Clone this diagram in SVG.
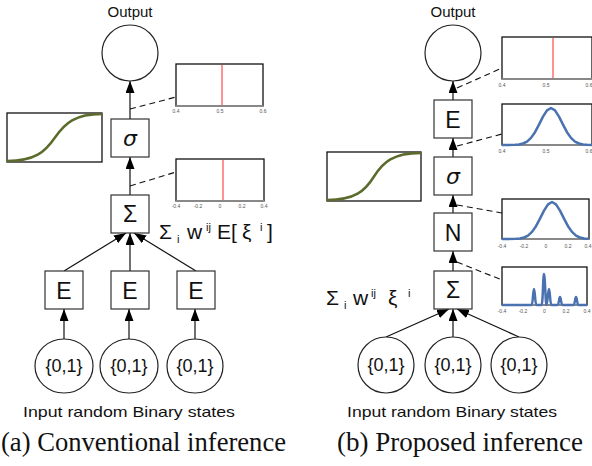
<svg xmlns="http://www.w3.org/2000/svg" width="592" height="466" viewBox="0 0 592 466">
<style>
.box{fill:#fff;stroke:#333;stroke-width:1.2}
.circ{fill:#fff;stroke:#222;stroke-width:1.2}
.lbl{font-family:"Liberation Sans","DejaVu Sans",sans-serif;font-size:23px;text-anchor:middle;fill:#111}
.sig{font-family:"DejaVu Sans",sans-serif;font-style:italic;font-size:22px;text-anchor:middle;fill:#111}
.bin{font-family:"Liberation Sans","DejaVu Sans",sans-serif;font-size:18px;text-anchor:middle;fill:#111}
.ttl{font-family:"Liberation Sans","DejaVu Sans",sans-serif;font-size:15px;fill:#111}
.cap{font-family:"Liberation Serif","Times New Roman",serif;font-size:27px;fill:#111}
.eq{font-family:"Liberation Sans","DejaVu Sans",sans-serif;font-size:21px;fill:#111}
.sub{font-family:"Liberation Sans","DejaVu Sans",sans-serif;font-size:11px;fill:#111}
.tick{font-family:"Liberation Sans","DejaVu Sans",sans-serif;font-size:5px;fill:#555;text-anchor:middle}
.frame{fill:#fff;stroke:#111;stroke-width:1.3}
.axis{stroke:#888;stroke-width:2}
.red{stroke:#f77;stroke-width:1.6}
.blue{fill:none;stroke:#4a72b0;stroke-width:2.5;stroke-linejoin:round}
.olive{fill:none;stroke:#5a6b2c;stroke-width:2.5}
.conn{stroke:#111;stroke-width:1.2;fill:none}
.arr{marker-end:url(#ah)}
.dash{stroke:#111;stroke-width:1.1;stroke-dasharray:6 4;fill:none}
</style>
<defs>
<marker id="ah" markerUnits="userSpaceOnUse" markerWidth="12" markerHeight="9" refX="12" refY="4.5" orient="auto">
<path d="M0,0 L12,4.5 L0,9 z" fill="#000"/>
</marker>
</defs>

<g id="connectors">
<line class="conn arr" x1="130" y1="119" x2="130" y2="81"/>
<line class="conn arr" x1="130" y1="195" x2="130" y2="157"/>
<line class="conn arr" x1="64" y1="271" x2="126" y2="233"/>
<line class="conn arr" x1="130" y1="271" x2="130" y2="233"/>
<line class="conn arr" x1="196" y1="271" x2="134" y2="233"/>
<line class="conn arr" x1="64" y1="339" x2="64" y2="309"/>
<line class="conn arr" x1="129" y1="339" x2="129" y2="309"/>
<line class="conn arr" x1="195" y1="339" x2="195" y2="309"/>
<line class="dash" x1="130" y1="109" x2="176" y2="97"/>
<line class="dash" x1="130" y1="186" x2="176" y2="172"/>
<line class="conn arr" x1="453" y1="100" x2="453" y2="81"/>
<line class="conn arr" x1="453" y1="157" x2="453" y2="138"/>
<line class="conn arr" x1="453" y1="213" x2="453" y2="195"/>
<line class="conn arr" x1="453" y1="271" x2="453" y2="251"/>
<line class="conn arr" x1="386" y1="337" x2="449" y2="309"/>
<line class="conn arr" x1="453" y1="337" x2="453" y2="309"/>
<line class="conn arr" x1="519" y1="337" x2="457" y2="309"/>
<line class="dash" x1="457" y1="88" x2="502" y2="68"/>
<line class="dash" x1="457" y1="146" x2="502" y2="134"/>
<line class="dash" x1="457" y1="205" x2="502" y2="213"/>
<line class="dash" x1="457" y1="262" x2="502" y2="280"/>
</g>

<!-- Left panel -->
<text class="ttl" x="130" y="17" text-anchor="middle" font-size="16">Output</text>
<g id="a-output"><circle class="circ" cx="130" cy="53" r="28"/></g>
<g id="a-sigma"><rect class="box" x="111" y="119" width="38" height="38"/><text class="sig" x="130" y="145.5">σ</text></g>
<g id="a-sum"><rect class="box" x="111" y="195" width="38" height="38"/><text class="lbl" x="130" y="222">Σ</text></g>
<g id="a-e1"><rect class="box" x="45" y="271" width="38" height="38"/><text class="lbl" x="64" y="298.5">E</text></g>
<g id="a-e2"><rect class="box" x="111" y="271" width="38" height="38"/><text class="lbl" x="130" y="298.5">E</text></g>
<g id="a-e3"><rect class="box" x="177" y="271" width="38" height="38"/><text class="lbl" x="196" y="298.5">E</text></g>
<g id="a-in1"><ellipse class="circ" cx="64" cy="366" rx="29" ry="27"/><text class="bin" x="64" y="372">{0,1}</text></g>
<g id="a-in2"><ellipse class="circ" cx="129" cy="366" rx="29" ry="27"/><text class="bin" x="129" y="372">{0,1}</text></g>
<g id="a-in3"><ellipse class="circ" cx="195" cy="366" rx="28" ry="27"/><text class="bin" x="195" y="372">{0,1}</text></g>

<g id="a-plot-out">
<rect class="frame" x="176" y="64" width="87" height="42"/>
<line class="axis" x1="176" y1="106" x2="263" y2="106"/>
<line class="red" x1="222" y1="65" x2="222" y2="105"/>
<text class="tick" x="176" y="113">0.4</text><text class="tick" x="220" y="113">0.5</text><text class="tick" x="263" y="113">0.6</text>
</g>
<g id="a-plot-sum">
<rect class="frame" x="176" y="159" width="88" height="42"/>
<line class="axis" x1="176" y1="201" x2="264" y2="201"/>
<line class="red" x1="223" y1="160" x2="223" y2="200"/>
<text class="tick" x="176" y="208">-0.4</text><text class="tick" x="198" y="208">-0.2</text><text class="tick" x="220" y="208">0</text><text class="tick" x="242" y="208">0.2</text><text class="tick" x="264" y="208">0.4</text>
</g>
<g id="a-sigmoid">
<rect class="frame" x="7" y="113" width="95" height="49"/>
<path class="olive" d="M7,161 C35,161 45,152 55,137.5 C65,123 75,114 102,114"/>
</g>
<text class="eq" x="159" y="239">Σ<tspan class="sub" x="177" y="243">i</tspan><tspan x="187" y="239">w</tspan><tspan class="sub" x="206" y="231">ij</tspan><tspan x="217" y="239">E[</tspan><tspan x="242" y="239">ξ</tspan><tspan class="sub" x="260" y="231">i</tspan><tspan x="267" y="239">]</tspan></text>
<text class="ttl" x="23" y="417" textLength="212" lengthAdjust="spacingAndGlyphs">Input random Binary states</text>
<text class="cap" x="1" y="451" textLength="285" lengthAdjust="spacingAndGlyphs">(a) Conventional inference</text>

<!-- Right panel -->
<text class="ttl" x="453" y="17" text-anchor="middle" font-size="16">Output</text>
<g id="b-output"><circle class="circ" cx="453" cy="53" r="28"/></g>
<g id="b-e"><rect class="box" x="434" y="100" width="38" height="38"/><text class="lbl" x="453" y="127.5">E</text></g>
<g id="b-sigma"><rect class="box" x="434" y="157" width="38" height="38"/><text class="sig" x="453" y="183.5">σ</text></g>
<g id="b-n"><rect class="box" x="434" y="213" width="38" height="38"/><text class="lbl" x="453" y="240.5">N</text></g>
<g id="b-sum"><rect class="box" x="434" y="271" width="38" height="38"/><text class="lbl" x="453" y="298">Σ</text></g>
<g id="b-in1"><circle class="circ" cx="386" cy="365" r="28"/><text class="bin" x="386" y="371">{0,1}</text></g>
<g id="b-in2"><circle class="circ" cx="453" cy="365" r="28"/><text class="bin" x="453" y="371">{0,1}</text></g>
<g id="b-in3"><circle class="circ" cx="519" cy="365" r="28"/><text class="bin" x="519" y="371">{0,1}</text></g>

<g id="b-plot-out">
<rect class="frame" x="502" y="37" width="90" height="42"/>
<line class="axis" x1="502" y1="79" x2="592" y2="79"/>
<line class="red" x1="553" y1="38" x2="553" y2="78"/>
<text class="tick" x="502" y="87">0.4</text><text class="tick" x="546" y="87">0.5</text><text class="tick" x="589" y="87">0.6</text>
</g>
<g id="b-plot-e">
<rect class="frame" x="502" y="104" width="90" height="41"/>
<line class="axis" x1="502" y1="145" x2="592" y2="145"/>
<polyline class="blue" points="502,145 515,144.8 519,144.5 523,143.5 527,141.6 531,137.9 535,132.2 539,124.6 543,116.6 547,110.4 551,108 555,110.4 559,116.6 563,124.6 567,132.2 571,137.9 575,141.6 579,143.5 583,144.5 587,144.8 592,145"/>
<text class="tick" x="502" y="153">0.4</text><text class="tick" x="546" y="153">0.5</text><text class="tick" x="589" y="153">0.6</text>
</g>
<g id="b-plot-n">
<rect class="frame" x="502" y="199" width="87" height="40"/>
<line class="axis" x1="502" y1="239" x2="589" y2="239"/>
<polyline class="blue" points="502,239 516,238.8 520,238.5 524,237.5 528,235.6 532,231.9 536,226.2 540,218.6 544,210.6 548,204.4 552,202 556,204.4 560,210.6 564,218.6 568,226.2 572,231.9 576,235.6 580,237.5 584,238.5 589,238.8"/>
<text class="tick" x="502" y="248">-0.4</text><text class="tick" x="524" y="248">-0.2</text><text class="tick" x="546" y="248">0</text><text class="tick" x="568" y="248">0.2</text><text class="tick" x="588" y="248">0.4</text>
</g>
<g id="b-plot-sum">
<rect class="frame" x="502" y="267" width="85" height="38"/>
<line class="axis" x1="502" y1="305" x2="587" y2="305"/>
<path class="blue" d="M502,305 L531.5,305 C533,305 533,289 534,289 C535,289 535,305 536.5,305 L541.5,305 C543,305 543,274 544,274 C545,274 545.5,305 546.5,305 C547.5,305 548,289 549,289 C550,289 550,305 551.5,305 L557.5,305 C559,305 559,297 560,297 C561,297 561,305 562.5,305 L573.5,305 C575,305 575,297 576,297 C577,297 577,305 578.5,305 L587,305"/>
<text class="tick" x="502" y="313">-0.4</text><text class="tick" x="523" y="313">-0.2</text><text class="tick" x="544.5" y="313">0</text><text class="tick" x="566" y="313">0.2</text><text class="tick" x="587" y="313">0.4</text>
</g>
<g id="b-sigmoid">
<rect class="frame" x="327" y="152" width="94" height="49"/>
<path class="olive" d="M327,200 C355,200 365,191 374,176.5 C383,162 393,153 421,153"/>
</g>
<text class="eq" x="326" y="305">Σ<tspan class="sub" x="344" y="309">i</tspan><tspan x="353" y="305">w</tspan><tspan class="sub" x="371" y="297">ij</tspan><tspan x="388" y="305">ξ</tspan><tspan class="sub" x="408" y="297">i</tspan></text>
<text class="ttl" x="347" y="417" textLength="210" lengthAdjust="spacingAndGlyphs">Input random Binary states</text>
<text class="cap" x="337" y="451" textLength="246" lengthAdjust="spacingAndGlyphs">(b) Proposed inference</text>
</svg>
